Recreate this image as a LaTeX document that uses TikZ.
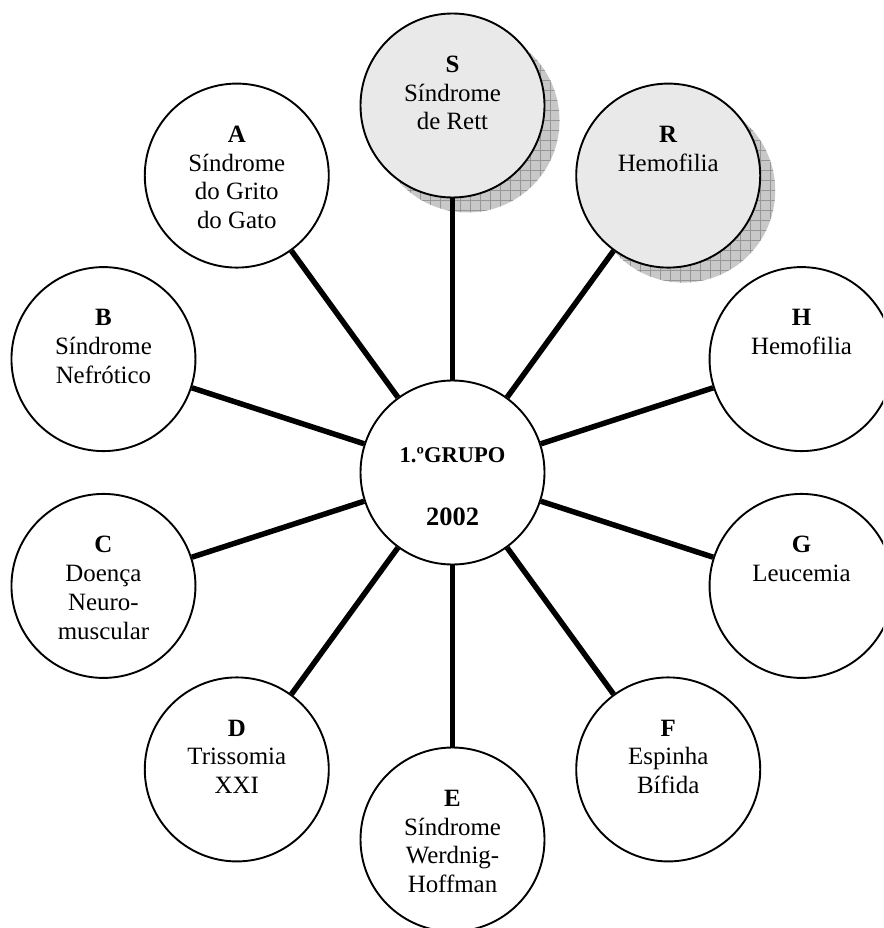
\documentclass[tikz,border=0pt]{standalone}
\usepackage{fontspec}
\setmainfont{Liberation Serif}
\usetikzlibrary{backgrounds}

\definecolor{bubblefill}{RGB}{233,233,233}
\definecolor{shadowfill}{RGB}{200,200,200}
\definecolor{shadowgrid}{RGB}{150,150,150}

% text block of an outer bubble: starts near the top, one line per item
\newcommand{\bubbletext}[1]{\parbox[c][99pt][t]{140pt}{\centering #1}}

\tikzset{
  bubble/.style={circle, draw=black, line width=1.9pt, fill=white,
    minimum size=184pt, inner sep=0pt,
    font=\fontsize{24.9}{28.7}\selectfont},
  greybubble/.style={bubble, fill=bubblefill},
  link/.style={line width=5.5pt},
  hubtext/.style={anchor=base, inner sep=0pt},
}

\begin{document}
\begin{tikzpicture}[x=1pt,y=-1pt]
\clip (0,0) rectangle (883,928);

% hub
\node[bubble] (c) at (452.5,472.5) {};
\node[hubtext, font=\fontsize{22.5}{26}\selectfont\bfseries] (ctitle)
  at ([yshift=10.5pt]c.center) {1.ºGRUPO};
\node[hubtext, font=\fontsize{26.5}{30}\selectfont\bfseries] (cyear)
  at ([yshift=-53pt]c.center) {2002};

% outer bubbles, every 36 degrees
\node[greybubble] (S) at ([shift={(-90:367)}]c.center)
  {\bubbletext{\textbf{S}\\Síndrome\\de Rett}};
\node[greybubble] (R) at ([shift={(-54:367)}]c.center)
  {\bubbletext{\textbf{R}\\Hemofilia}};
\node[bubble] (H) at ([shift={(-18:367)}]c.center)
  {\bubbletext{\textbf{H}\\Hemofilia}};
\node[bubble] (G) at ([shift={(18:367)}]c.center)
  {\bubbletext{\textbf{G}\\Leucemia}};
\node[bubble] (F) at ([shift={(54:367)}]c.center)
  {\bubbletext{\textbf{F}\\Espinha\\Bífida}};
\node[bubble] (E) at ([shift={(90:367)}]c.center)
  {\bubbletext{\textbf{E}\\Síndrome\\Werdnig-\\Hoffman}};
\node[bubble] (D) at ([shift={(126:367)}]c.center)
  {\bubbletext{\textbf{D}\\Trissomia\\XXI}};
\node[bubble] (C) at ([shift={(162:367)}]c.center)
  {\bubbletext{\textbf{C}\\Doença\\Neuro-\\muscular}};
\node[bubble] (B) at ([shift={(198:367)}]c.center)
  {\bubbletext{\textbf{B}\\Síndrome\\Nefrótico}};
\node[bubble] (A) at ([shift={(234:367)}]c.center)
  {\bubbletext{\textbf{A}\\Síndrome\\do Grito\\do Gato}};

% hatched drop shadows of the two grey bubbles
\begin{scope}[on background layer]
  \foreach \n in {S,R}{
    \begin{scope}
      \clip ([shift={(15,15)}]\n.center) circle[radius=92pt];
      \fill[shadowfill] (0,0) rectangle (883,928);
      \foreach \k in {0,10,...,880}
        \draw[shadowgrid, line width=0.7pt] (\k,0) -- (\k,928);
      \foreach \k in {0,10,...,920}
        \draw[shadowgrid, line width=0.7pt] (0,\k) -- (883,\k);
    \end{scope}
  }
\end{scope}

% spokes
\foreach \n in {S,R,H,G,F,E,D,C,B,A}
  \draw[link] (c) -- (\n);
\end{tikzpicture}
\end{document}
